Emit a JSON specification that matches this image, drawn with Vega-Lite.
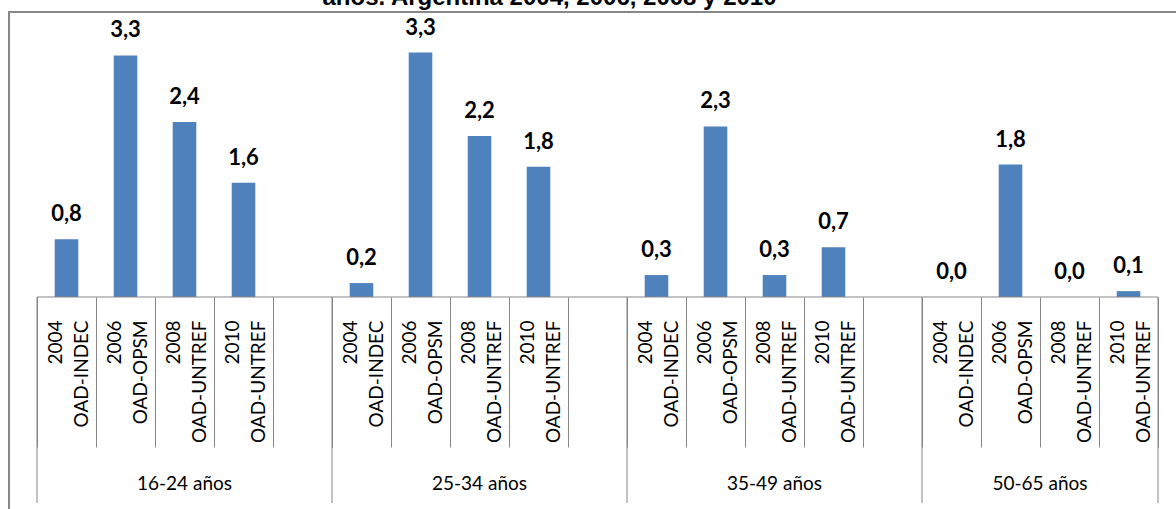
{
  "$schema": "https://vega.github.io/schema/vega-lite/v6.json",
  "autosize": "none",
  "width": 1177,
  "height": 505,
  "padding": {"left": 9, "top": 12, "right": -10, "bottom": -8},
  "title": {"text": "años. Argentina 2004, 2006, 2008 y 2010", "font": "Liberation Sans", "fontSize": 24, "fontWeight": "bold", "color": "#000000", "offset": 2, "dx": -48, "anchor": "middle"},
  "config": {
    "view": {"stroke": "#888888", "strokeWidth": 2}
  },
  "data": {"values": [
    {"grupo": "16-24 años", "anio": "2004", "fuente": "OAD-INDEC", "valor": 0.79},
    {"grupo": "16-24 años", "anio": "2006", "fuente": "OAD-OPSM", "valor": 3.30},
    {"grupo": "16-24 años", "anio": "2008", "fuente": "OAD-UNTREF", "valor": 2.39},
    {"grupo": "16-24 años", "anio": "2010", "fuente": "OAD-UNTREF", "valor": 1.56},
    {"grupo": "25-34 años", "anio": "2004", "fuente": "OAD-INDEC", "valor": 0.19},
    {"grupo": "25-34 años", "anio": "2006", "fuente": "OAD-OPSM", "valor": 3.34},
    {"grupo": "25-34 años", "anio": "2008", "fuente": "OAD-UNTREF", "valor": 2.2},
    {"grupo": "25-34 años", "anio": "2010", "fuente": "OAD-UNTREF", "valor": 1.78},
    {"grupo": "35-49 años", "anio": "2004", "fuente": "OAD-INDEC", "valor": 0.3},
    {"grupo": "35-49 años", "anio": "2006", "fuente": "OAD-OPSM", "valor": 2.33},
    {"grupo": "35-49 años", "anio": "2008", "fuente": "OAD-UNTREF", "valor": 0.3},
    {"grupo": "35-49 años", "anio": "2010", "fuente": "OAD-UNTREF", "valor": 0.68},
    {"grupo": "50-65 años", "anio": "2004", "fuente": "OAD-INDEC", "valor": 0.0},
    {"grupo": "50-65 años", "anio": "2006", "fuente": "OAD-OPSM", "valor": 1.81},
    {"grupo": "50-65 años", "anio": "2008", "fuente": "OAD-UNTREF", "valor": 0.0},
    {"grupo": "50-65 años", "anio": "2010", "fuente": "OAD-UNTREF", "valor": 0.08}
  ]},
  "transform": [
    {"calculate": "datum.grupo + '|' + datum.anio + '|' + datum.fuente", "as": "key"},
    {"calculate": "replace(format(datum.valor, '.1f'), '.', ',')", "as": "etiqueta"}
  ],
  "encoding": {
    "x": {
      "field": "key", "type": "nominal", "sort": null,
      "scale": {
        "domain": [
          "16-24 años|2004|OAD-INDEC", "16-24 años|2006|OAD-OPSM", "16-24 años|2008|OAD-UNTREF", "16-24 años|2010|OAD-UNTREF", "16-24 años|gap",
          "25-34 años|2004|OAD-INDEC", "25-34 años|2006|OAD-OPSM", "25-34 años|2008|OAD-UNTREF", "25-34 años|2010|OAD-UNTREF", "25-34 años|gap",
          "35-49 años|2004|OAD-INDEC", "35-49 años|2006|OAD-OPSM", "35-49 años|2008|OAD-UNTREF", "35-49 años|2010|OAD-UNTREF", "35-49 años|gap",
          "50-65 años|2004|OAD-INDEC", "50-65 años|2006|OAD-OPSM", "50-65 años|2008|OAD-UNTREF", "50-65 años|2010|OAD-UNTREF"
        ],
        "paddingInner": 0, "paddingOuter": 0.4746
      },
      "axis": {
        "title": null, "offset": -220, "domain": false,
        "tickColor": "#868686", "tickWidth": 1, "tickSize": 150, "tickBand": "extent",
        "labelPadding": -127, "labelOffset": -11, "labelAngle": -90, "labelAlign": "right", "labelBaseline": "middle",
        "labelFont": "Lato", "labelFontSize": 19, "labelColor": "#000000", "labelLineHeight": 26,
        "labelOverlap": false, "labelBound": false, "labelFlush": false,
        "labelExpr": "(!isString(datum.value) || indexof(datum.value, 'gap') >= 0) ? '' : [split(datum.value, '|')[1], split(datum.value, '|')[2]]"
      }
    }
  },
  "layer": [
    {
      "mark": {"type": "bar", "color": "#4F81BD", "width": {"band": 0.4}},
      "encoding": {
        "y": {"field": "valor", "type": "quantitative", "scale": {"domain": [-3.0055, 3.8934], "nice": false, "zero": false}, "axis": null}
      }
    },
    {
      "mark": {"type": "text", "baseline": "alphabetic", "dy": -18, "font": "Lato", "fontSize": 22, "fontWeight": "bold", "color": "#000000"},
      "encoding": {
        "y": {"field": "valor", "type": "quantitative"},
        "text": {"field": "etiqueta", "type": "nominal"}
      }
    },
    {
      "transform": [{"filter": "datum.anio === '2004' && datum.grupo === '16-24 años'"}],
      "mark": {"type": "rule", "color": "#868686", "strokeWidth": 1},
      "encoding": {
        "x": {"datum": "16-24 años|2004|OAD-INDEC", "type": "nominal", "bandPosition": 0},
        "x2": {"datum": "50-65 años|2010|OAD-UNTREF", "bandPosition": 1},
        "y": {"datum": 0}
      }
    },
    {
      "transform": [{"filter": "datum.anio === '2004'"}],
      "mark": {"type": "rule", "color": "#868686", "strokeWidth": 1},
      "encoding": {
        "x": {"field": "key", "type": "nominal", "bandPosition": 0},
        "y": {"datum": 0},
        "y2": {"datum": -2.814}
      }
    },
    {
      "transform": [{"filter": "datum.grupo === '50-65 años' && datum.anio === '2010'"}],
      "mark": {"type": "rule", "color": "#868686", "strokeWidth": 1},
      "encoding": {
        "x": {"field": "key", "type": "nominal", "bandPosition": 1},
        "y": {"datum": 0},
        "y2": {"datum": -2.814}
      }
    },
    {
      "transform": [{"filter": "datum.anio === '2008' && datum.grupo !== '50-65 años'"}],
      "mark": {"type": "text", "baseline": "middle", "font": "Lato", "fontSize": 19, "color": "#000000"},
      "encoding": {
        "x": {"field": "key", "type": "nominal", "bandPosition": 0.5},
        "y": {"datum": -2.56},
        "text": {"field": "grupo", "type": "nominal"}
      }
    },
    {
      "transform": [{"filter": "datum.anio === '2008' && datum.grupo === '50-65 años'"}],
      "mark": {"type": "text", "baseline": "middle", "font": "Lato", "fontSize": 19, "color": "#000000"},
      "encoding": {
        "x": {"field": "key", "type": "nominal", "bandPosition": 0},
        "y": {"datum": -2.56},
        "text": {"field": "grupo", "type": "nominal"}
      }
    }
  ]
}
